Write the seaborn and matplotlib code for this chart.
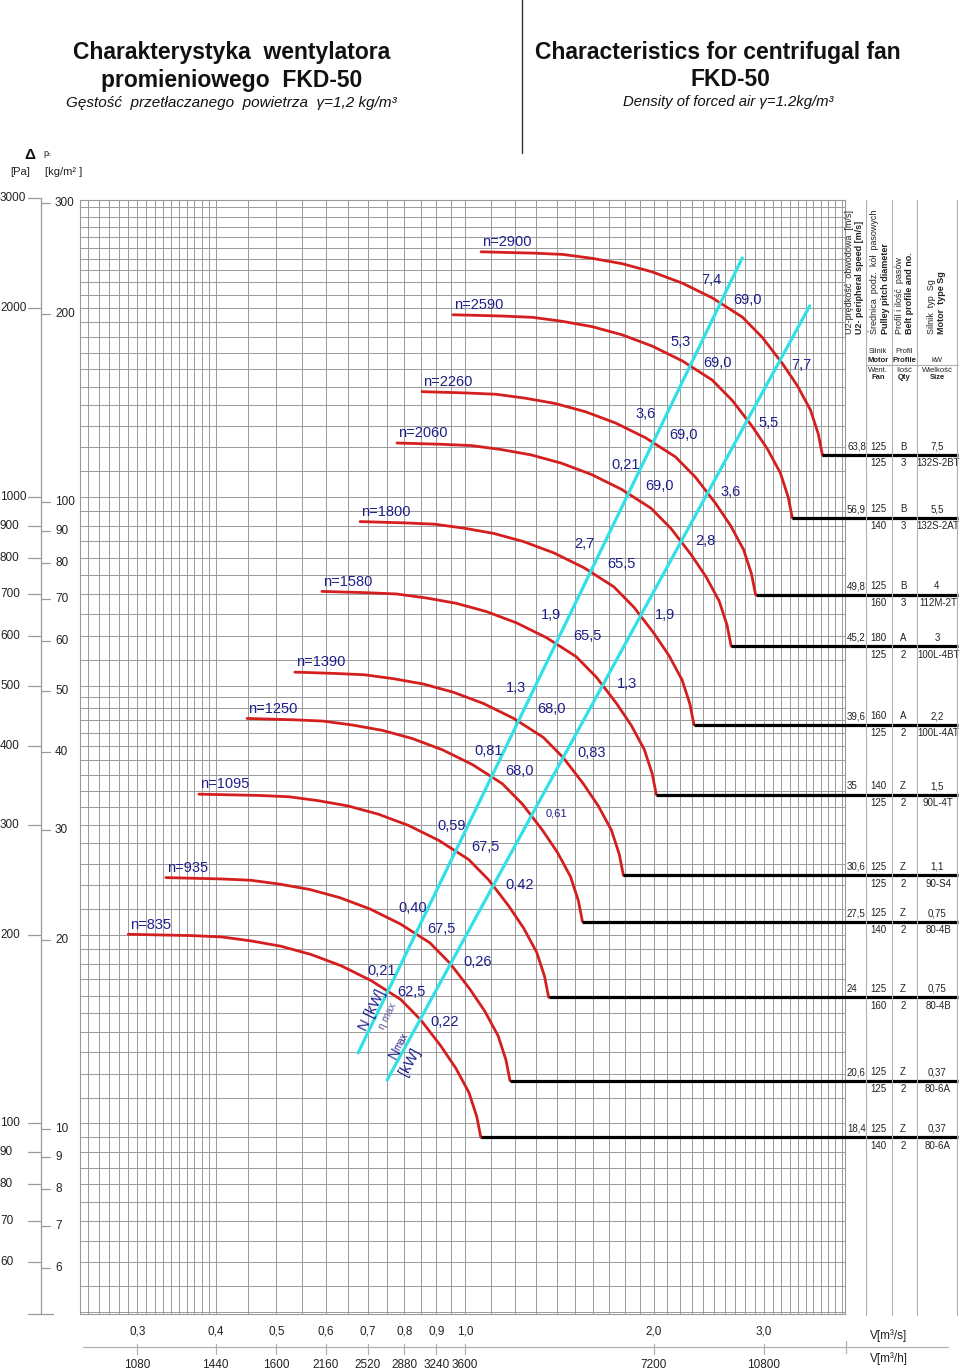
import numpy as np
import pandas as pd
import matplotlib
matplotlib.use("Agg")
import matplotlib.pyplot as plt
import seaborn as sns
from matplotlib import font_manager
from matplotlib.lines import Line2D
from matplotlib.ticker import NullLocator
from matplotlib.transforms import blended_transform_factory as blend

# ---------------- data ----------------
speeds = [835, 935, 1095, 1250, 1390, 1580, 1800, 2060, 2260, 2590, 2900]
# end of each speed curve (drop point) [m3/s], [Pa]
v_end = [1.06, 1.18, 1.36, 1.54, 1.79, 2.02, 2.32, 2.66, 2.91, 3.33, 3.72]
p_end = [95, 117, 159, 210, 249, 335, 433, 578, 698, 926, 1167]
# start of each speed curve [m3/s]
v_start = [0.290, 0.333, 0.376, 0.449, 0.535, 0.591, 0.680, 0.779, 0.854, 0.957, 1.061]
# dimensionless curve shape (V/V_end, P/P_end)
shape_p_start = 2.11
shape_q = [0.345, 0.385, 0.429, 0.479, 0.535, 0.598, 0.668, 0.745, 0.802, 0.863, 0.912, 0.957, 0.985, 1.0]
shape_p = [2.10, 2.09, 2.06, 2.02, 1.96, 1.88, 1.78, 1.66, 1.54, 1.40, 1.29, 1.18, 1.08, 1.0]

# cyan lines: max efficiency line and max power line
eta_line_v = [0.675, 2.77]
eta_line_p = [129.6, 2407]
nmax_line_v = [0.751, 3.55]
nmax_line_p = [117.3, 2018]

power_eta = ['0,21', '0,40', '0,59', '0,81', '1,3', '1,9', '2,7', '0,21', '3,6', '5,3', '7,4']
eta_max = ['62,5', '67,5', '67,5', '68,0', '68,0', '65,5', '65,5', '69,0', '69,0', '69,0', '69,0']
power_max = ['0,22', '0,26', '0,42', '0,61', '0,83', '1,3', '1,9', '2,8', '3,6', '5,5', '7,7']

u2 = ['18,4', '20,6', '24', '27,5', '30,6', '35', '39,6', '45,2', '49,8', '56,9', '63,8']
pulley_motor = ['125', '125', '125', '125', '125', '140', '160', '180', '125', '125', '125']
pulley_fan = ['140', '125', '160', '140', '125', '125', '125', '125', '160', '140', '125']
belt_profile = ['Z', 'Z', 'Z', 'Z', 'Z', 'Z', 'A', 'A', 'B', 'B', 'B']
belt_qty = ['2', '2', '2', '2', '2', '2', '2', '2', '3', '3', '3']
motor_kw = ['0,37', '0,37', '0,75', '0,75', '1,1', '1,5', '2,2', '3', '4', '5,5', '7,5']
motor_size = ['80-6A', '80-6A', '80-4B', '80-4B', '90-S4', '90L-4T', '100L-4AT', '100L-4BT',
              '112M-2T', '132S-2AT', '132S-2BT']

pa_ticks = [3000, 2000, 1000, 900, 800, 700, 600, 500, 400, 300, 200, 100, 90, 80, 70, 60]
kg_ticks = [300, 200, 100, 90, 80, 70, 60, 50, 40, 30, 20, 10, 9, 8, 7, 6]
vs_ticks = [0.3, 0.4, 0.5, 0.6, 0.7, 0.8, 0.9, 1.0, 2.0, 3.0]
vs_labels = ['0,3', '0,4', '0,5', '0,6', '0,7', '0,8', '0,9', '1,0', '2,0', '3,0']
vh_labels = ['1080', '1440', '1600', '2160', '2520', '2880', '3240', '3600', '7200', '10800']

# ---------------- styling ----------------
sns.set_theme(style="white")
avail = {f.name for f in font_manager.fontManager.ttflist}
BASE = "Liberation Sans" if "Liberation Sans" in avail else "DejaVu Sans"
plt.rcParams["font.family"] = [BASE, "DejaVu Sans"]

RED = "#d41f1f"
CYAN = "#33e0e6"
BLUE = "#1e1e8c"
GRID = "#9a9a9a"
W, H = 960, 1370


def FX(x):
    return x / W


def FY(y):
    return 1 - y / H


fig = plt.figure(figsize=(W / 100, H / 100), dpi=100)
fig.patch.set_facecolor("white")
L, R, T, B = 80, 845, 200, 1314
ax = fig.add_axes([L / W, 1 - B / H, (R - L) / W, (B - T) / H])
ax.set_xscale("log")
ax.set_yscale("log")
ax.set_xlim(0.2429, 4.042)
ax.set_ylim(49.65, 2979)
for axis in (ax.xaxis, ax.yaxis):
    axis.set_major_locator(NullLocator())
    axis.set_minor_locator(NullLocator())
for s in ax.spines.values():
    s.set_color(GRID)
    s.set_linewidth(0.8)

# grid
vgrid = np.concatenate([np.arange(0.25, 0.399, 0.01), np.arange(0.40, 0.999, 0.05), np.arange(1.0, 4.05, 0.1)])
hgrid = np.concatenate([np.arange(50, 99, 5), np.arange(100, 199, 10), np.arange(200, 499, 20),
                        np.arange(500, 999, 50), np.arange(1000, 3001, 100)])
for v in vgrid:
    ax.axvline(v, color=GRID, lw=0.7, zorder=0)
for p in hgrid:
    ax.axhline(p, color=GRID, lw=0.7, zorder=0)

# speed curves
rows = []
for n, vs, ve, pe in zip(speeds, v_start, v_end, p_end):
    rows.append((n, 0, vs, shape_p_start * pe))
    for k, (q, pp) in enumerate(zip(shape_q, shape_p)):
        rows.append((n, k + 1, q * ve, pp * pe))
df = pd.DataFrame(rows, columns=["n", "k", "V", "P"])
sns.lineplot(data=df, x="V", y="P", units="n", estimator=None, sort=False,
             color=RED, lw=2.0, ax=ax, zorder=3)

# cyan lines
sns.lineplot(x=eta_line_v, y=eta_line_p, color=CYAN, lw=2.3, ax=ax, zorder=4, sort=False)
sns.lineplot(x=nmax_line_v, y=nmax_line_p, color=CYAN, lw=2.3, ax=ax, zorder=4, sort=False)
ax.set_xlabel("")
ax.set_ylabel("")
ax.set_xlim(0.2429, 4.042)
ax.set_ylim(49.65, 2979)

# black table lines from the curve ends to the right edge
v_right = ax.transData.inverted().transform((958, 0))[0]
ax.hlines(p_end, v_end, v_right, color="black", lw=2.3, clip_on=False, zorder=5)

# speed labels
for n, vs, pe in zip(speeds, v_start, p_end):
    ax.annotate(f"n={n}", xy=(vs, shape_p_start * pe), xytext=(1, 2), textcoords="offset points",
                ha="left", va="bottom", color=BLUE, fontsize=10.5)

# labels along cyan lines (pixel positions)
power_eta_pos = [(382, 971), (413, 908), (452, 826), (489, 751), (516, 688), (551, 615), (584, 544),
                 (626, 465), (646, 414), (681, 342), (711, 280)]
eta_pos = [(411, 992), (441, 929), (485, 847), (520, 771), (551, 709), (587, 636), (621, 564),
           (659, 486), (684, 435), (718, 363), (748, 300)]
power_max_pos = [(445, 1022), (478, 962), (520, 885), (556, 814), (592, 753), (627, 684), (665, 615),
                 (705, 541), (731, 492), (769, 423), (801, 365)]
for txt, (x, y) in zip(power_eta, power_eta_pos):
    fig.text(FX(x), FY(y), txt, ha="center", va="center", color=BLUE, fontsize=10.5, zorder=6)
for txt, (x, y) in zip(eta_max, eta_pos):
    fig.text(FX(x), FY(y), txt, ha="center", va="center", color=BLUE, fontsize=10.5, zorder=6)
for i, (txt, (x, y)) in enumerate(zip(power_max, power_max_pos)):
    fig.text(FX(x), FY(y), txt, ha="center", va="center", color=BLUE,
             fontsize=8 if txt == '0,61' else 10.5, zorder=6)

fig.text(FX(372), FY(1010), "N [kW]", rotation=64, ha="center", va="center", color=BLUE, fontsize=10.5)
fig.text(FX(388), FY(1016), "η max", rotation=64, ha="center", va="center", color="#5a5a9a", fontsize=7.5)
fig.text(FX(395), FY(1053), "N", rotation=61, ha="center", va="center", color=BLUE, fontsize=10.5)
fig.text(FX(401), FY(1042), "max", rotation=61, ha="center", va="center", color=BLUE, fontsize=7)
fig.text(FX(410), FY(1062), "[kW]", rotation=61, ha="center", va="center", color=BLUE, fontsize=10.5)

# table values
tfs = 7
yx = ("figure fraction", "data")
for i, pe in enumerate(p_end):
    for txt, x, ha in [(u2[i], 847, "left"), (pulley_motor[i], 878, "center"),
                       (belt_profile[i], 903, "center"), (motor_kw[i], 937, "center")]:
        ax.annotate(txt, xy=(FX(x), pe), xycoords=yx, xytext=(0, 2.5), textcoords="offset points",
                    ha=ha, va="bottom", fontsize=tfs, color="#222222", annotation_clip=False)
    for txt, x in [(pulley_fan[i], 878), (belt_qty[i], 903), (motor_size[i], 938)]:
        ax.annotate(txt, xy=(FX(x), pe), xycoords=yx, xytext=(0, -2.5), textcoords="offset points",
                    ha="center", va="top", fontsize=tfs, color="#222222", annotation_clip=False)

# table column separators
for x in [866, 892, 917, 957]:
    fig.add_artist(Line2D([FX(x), FX(x)], [FY(200), FY(1315)], color="#b0b0b0", lw=0.8))
fig.add_artist(Line2D([FX(866), FX(958)], [FY(365), FY(365)], color="#b0b0b0", lw=0.8))

# rotated headers
hfs = 6.5
for x, txt, bold in [(849, "U2-prędkość  obwodowa  [m/s]", False),
                     (860, "U2- peripheral speed [m/s]", True),
                     (874, "Średnica  podz.  kół  pasowych", False),
                     (885, "Pulley pitch diameter", True),
                     (899, "Profil i ilość  pasów", False),
                     (910, "Belt profile and no.", True),
                     (931, "Silnik  typ  Sg", False),
                     (942, "Motor  type Sg", True)]:
    fig.text(FX(x), FY(334), txt, rotation=90, ha="center", va="bottom", fontsize=hfs,
             fontweight="bold" if bold else "normal", color="#222222")

sfs = 5.5
for x, y, txt, bold in [(878, 352, "Silnik", False), (878, 361, "Motor", True),
                        (904, 352, "Profil", False), (904, 361, "Profile", True),
                        (937, 361, "kW", False),
                        (878, 370, "Went.", False), (878, 378, "Fan", True),
                        (904, 370, "Ilość", False), (904, 378, "Qty", True),
                        (937, 370, "Wielkość", False), (937, 378, "Size", True)]:
    fig.text(FX(x), FY(y), txt, ha="center", va="center", fontsize=sfs,
             fontweight="bold" if bold else "normal", color="#222222")

# left pressure axes
ly = blend(fig.transFigure, ax.transData)
fig.add_artist(Line2D([FX(41), FX(41)], [FY(198), FY(1314)], color=GRID, lw=0.9))
fig.add_artist(Line2D([FX(28), FX(53)], [FY(1314), FY(1314)], color=GRID, lw=0.9))
for p in pa_ticks:
    fig.add_artist(Line2D([FX(28), FX(40)], [p, p], transform=ly, color=GRID, lw=0.9, clip_on=False))
    fig.text(FX(0), p, str(p), transform=ly, ha="left", va="center", fontsize=8.5, color="#222222")
for k in kg_ticks:
    pk = k * 9.81
    fig.add_artist(Line2D([FX(41), FX(50)], [pk, pk], transform=ly, color=GRID, lw=0.9, clip_on=False))
    fig.text(FX(55), pk, str(k), transform=ly, ha="left", va="center", fontsize=8.5, color="#222222")
fig.text(FX(30), FY(155), "Δ", ha="center", va="center", fontsize=11, fontweight="bold", color="#111111")
fig.text(FX(43), FY(153), "p", ha="left", va="center", fontsize=6.5, color="#222222")
fig.text(FX(47.5), FY(155), "c", ha="left", va="center", fontsize=4, color="#222222")
fig.text(FX(20), FY(172), "[Pa]", ha="center", va="center", fontsize=8, color="#222222")
fig.text(FX(45), FY(172), "[kg/m² ]", ha="left", va="center", fontsize=8, color="#222222")

# bottom flow axes
bx = blend(ax.transData, fig.transFigure)
fig.add_artist(Line2D([FX(83), FX(948)], [FY(1347), FY(1347)], color="#b0b0b0", lw=0.9))
for v, ls, lh in zip(vs_ticks, vs_labels, vh_labels):
    fig.text(v, FY(1331), ls, transform=bx, ha="center", va="center", fontsize=8.5, color="#222222")
    fig.text(v, FY(1365), lh, transform=bx, ha="center", va="center", fontsize=8.5, color="#222222")
    fig.add_artist(Line2D([v, v], [FY(1344), FY(1354)], transform=bx, color="#b0b0b0", lw=0.9))
fig.add_artist(Line2D([FX(846), FX(846)], [FY(1341), FY(1353)], color="#b0b0b0", lw=0.9))
fig.text(FX(870), FY(1336), "V[m³/s]", ha="left", va="center", fontsize=8.5, color="#222222")
fig.text(FX(870), FY(1359), "V[m³/h]", ha="left", va="center", fontsize=8.5, color="#222222")

# titles
fig.add_artist(Line2D([FX(522), FX(522)], [FY(0), FY(153)], color="#333333", lw=1.0))
fig.text(FX(232), FY(53), "Charakterystyka  wentylatora", ha="center", va="center",
         fontsize=16.5, fontweight="bold", color="#111111")
fig.text(FX(232), FY(80), "promieniowego  FKD-50", ha="center", va="center",
         fontsize=16.5, fontweight="bold", color="#111111")
fig.text(FX(231), FY(103), "Gęstość  przetłaczanego  powietrza  γ=1,2 kg/m³", ha="center", va="center",
         fontsize=11, fontstyle="italic", color="#111111")
fig.text(FX(718), FY(53), "Characteristics for centrifugal fan", ha="center", va="center",
         fontsize=16.5, fontweight="bold", color="#111111")
fig.text(FX(730), FY(80), "FKD-50", ha="center", va="center",
         fontsize=16.5, fontweight="bold", color="#111111")
fig.text(FX(728), FY(102), "Density of forced air γ=1.2kg/m³", ha="center", va="center",
         fontsize=10.7, fontstyle="italic", color="#111111")

fig.savefig("out.png", dpi=100, facecolor="white")
